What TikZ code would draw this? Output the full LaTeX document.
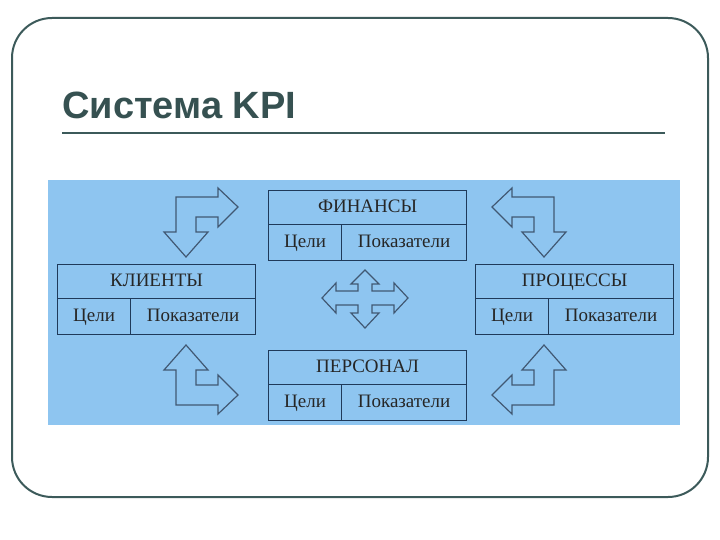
\documentclass[tikz,border=0pt]{standalone}
\usepackage{fontspec}
\setmainfont{Liberation Serif}
\newfontfamily\titlefont{Liberation Sans}
\begin{document}
\begin{tikzpicture}[x=1pt,y=-1pt,
  cell/.style={draw=navy,line width=1.2pt,fill=bluebg,inner sep=0pt,font=\fontsize{19}{21}\selectfont,text=black!85,text height=12pt,text depth=3pt},
  arr/.style={draw=navy!85,line width=1.2pt,fill=bluebg,line join=miter}]
\definecolor{navy}{HTML}{1F3A5A}
\definecolor{bluebg}{HTML}{8EC5F0}
\definecolor{frame}{HTML}{3C5A5A}
\useasboundingbox (0,0) rectangle (720,540);
\draw[frame,line width=2pt,rounded corners=40pt] (12,18) rectangle (708,497);
\node[anchor=base west,inner sep=0pt,font=\titlefont\bfseries\fontsize{38}{42}\selectfont,text=frame!90!black] (title) at (62,119) {Система KPI};
\draw[frame,line width=2pt] (62,133) -- (665,133);
\fill[bluebg] (48,180) rectangle (680,425);
% boxes
\newcommand\kpibox[4]{%
  \node[cell,minimum width=198pt,minimum height=34pt,anchor=north west] (#4t) at (#1,#2) {#3};
  \node[cell,minimum width=73pt,minimum height=36pt,anchor=north west] (#4g) at (#1,#2+34) {Цели};
  \node[cell,minimum width=125pt,minimum height=36pt,anchor=north west] (#4p) at (#1+73,#2+34) {Показатели};}
\kpibox{268}{190}{ФИНАНСЫ}{fin}
\kpibox{57}{264}{КЛИЕНТЫ}{cli}
\kpibox{475}{264}{ПРОЦЕССЫ}{pro}
\kpibox{268}{350}{ПЕРСОНАЛ}{per}
% bent arrows
\newcommand\bent{(176,197)--(218,197)--(218,188)--(238,207)--(218,227)--(218,217)--(196,217)--(196,232)--(208,232)--(186,257)--(164,232)--(176,232)--cycle}
\draw[arr] \bent;
\begin{scope}[xshift=730,xscale=-1]\draw[arr] \bent;\end{scope}
\begin{scope}[yshift=-602,yscale=-1]\draw[arr] \bent;\end{scope}
\begin{scope}[xshift=730,xscale=-1,yshift=-602,yscale=-1]\draw[arr] \bent;\end{scope}
% cross arrow
\draw[arr] (365,270)--(379,284)--(372,284)--(372,291)--(394,291)--(394,283)--(408,298)--(394,313)--(394,305)--(372,305)--(372,313)--(379,313)--(365,328)--(351,313)--(358,313)--(358,305)--(336,305)--(336,313)--(322,298)--(336,283)--(336,291)--(358,291)--(358,284)--(351,284)--cycle;
\end{tikzpicture}
\end{document}
